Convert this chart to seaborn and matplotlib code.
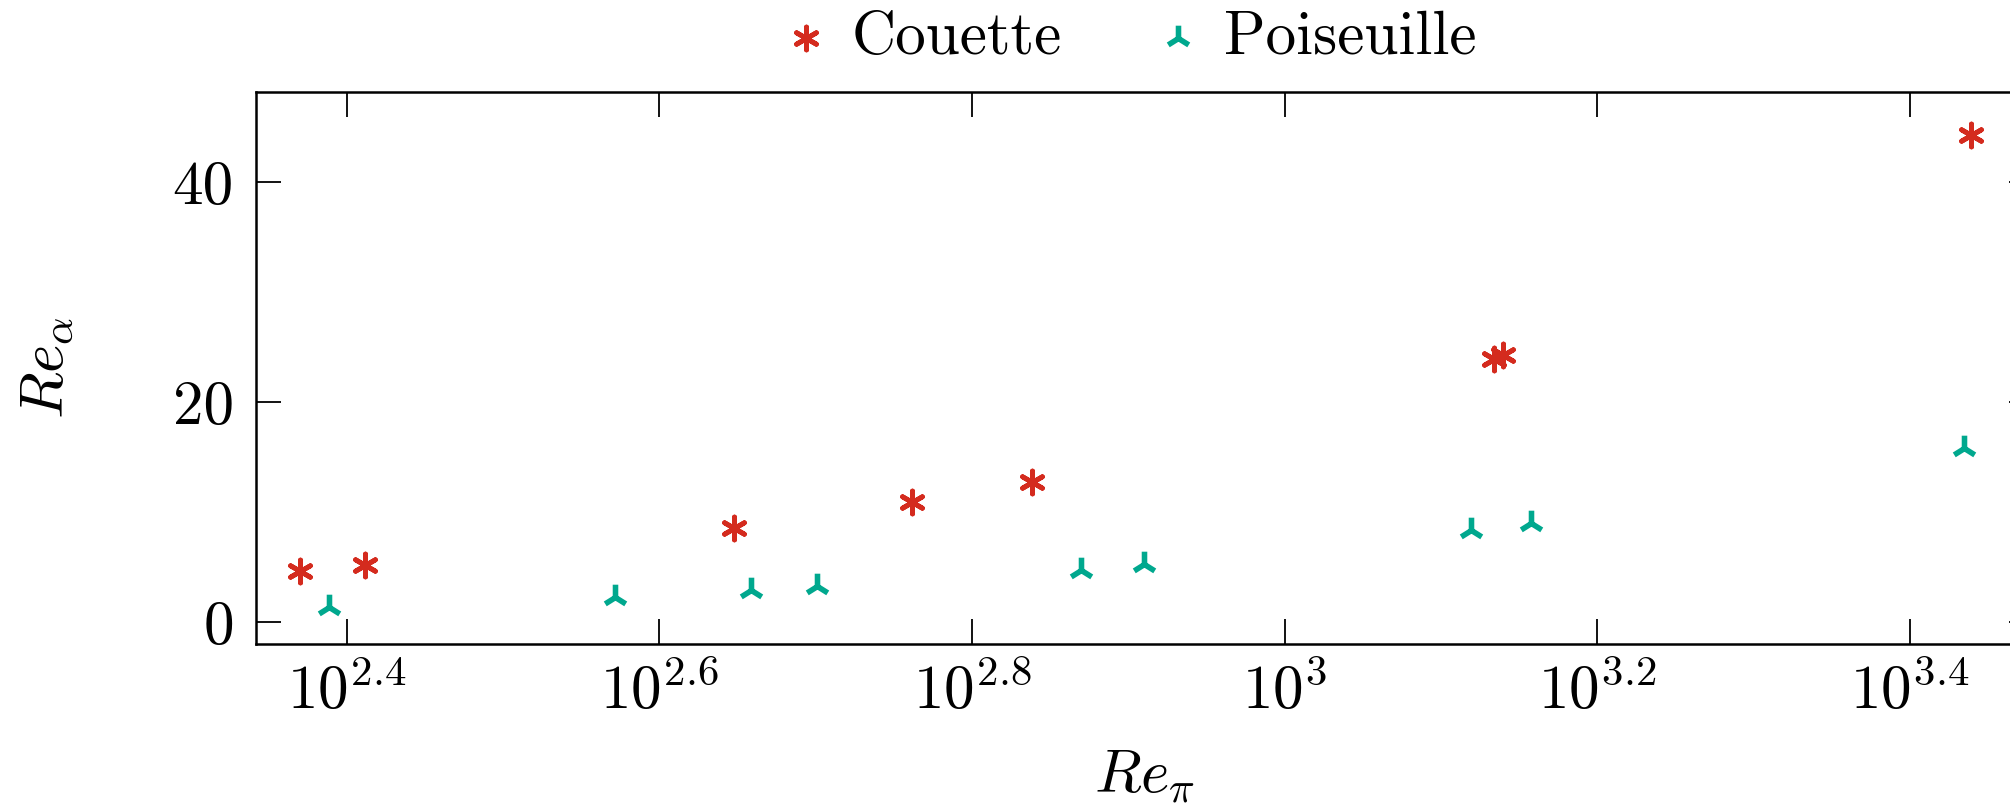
import numpy as np
import pandas as pd
import seaborn as sns
import matplotlib.pyplot as plt

# ── Data ──────────────────────────────────────────────────────────────────────
couette_re_pi    = [234.4, 258.2, 444.6, 578.1, 689.5, 1361.4, 1379.1, 2747.9]
couette_re_alpha = [4.6, 5.2, 8.55, 10.87, 12.75, 23.9, 24.3, 44.3]

poiseuille_re_pi    = [244.8, 372.8, 456.0, 502.3, 740.6, 812.8, 1316.0, 1437.3, 2722.7]
poiseuille_re_alpha = [1.33, 2.27, 2.94, 3.24, 4.75, 5.3, 8.33, 9.0, 15.8]

x_tick_exponents = [2.4, 2.6, 2.8, 3.0, 3.2, 3.4]
x_tick_labels    = [r'$10^{2.4}$', r'$10^{2.6}$', r'$10^{2.8}$',
                    r'$10^{3}$', r'$10^{3.2}$', r'$10^{3.4}$']
y_ticks          = [0, 20, 40]

series_names  = ['Couette', 'Poiseuille']
series_colors = ['#D42B1E', '#00A88E']

# ── Style ─────────────────────────────────────────────────────────────────────
sns.set_style('ticks')
plt.rcParams['font.family'] = ['cmr10', 'DejaVu Serif']
plt.rcParams['mathtext.fontset'] = 'cm'
plt.rcParams['axes.formatter.use_mathtext'] = True
plt.rcParams['axes.unicode_minus'] = False
plt.rcParams['text.color'] = 'black'
plt.rcParams['axes.labelcolor'] = 'black'

FS = 44

df_c = pd.DataFrame({'re_pi': couette_re_pi, 're_alpha': couette_re_alpha})
df_p = pd.DataFrame({'re_pi': poiseuille_re_pi, 're_alpha': poiseuille_re_alpha})

fig = plt.figure(figsize=(20.1, 8.05), dpi=100)
# axes runs past the right edge of the figure, as in the reference
ax = fig.add_axes([256 / 2010, 161 / 805, 1778 / 2010, 552 / 805])

sns.scatterplot(data=df_c, x='re_pi', y='re_alpha', ax=ax,
                marker=(6, 2, 0), color=series_colors[0],
                s=270, linewidth=3.5, legend=False)
sns.scatterplot(data=df_p, x='re_pi', y='re_alpha', ax=ax,
                marker='2', color=series_colors[1],
                s=340, linewidth=4.0, legend=False)

# ── Axes ──────────────────────────────────────────────────────────────────────
ax.set_xscale('log')
ax.set_xlim(10 ** 2.342, 10 ** 3.4795)
ax.set_ylim(-2.0, 48.2)
ax.set_xticks([10 ** e for e in x_tick_exponents])
ax.set_xticklabels(x_tick_labels)
ax.xaxis.set_minor_locator(plt.NullLocator())
ax.set_yticks(y_ticks)
ax.set_yticklabels([str(t) for t in y_ticks])

ax.tick_params(axis='both', which='major', direction='in', length=18,
               width=1.3, top=True, right=True, labelsize=FS, colors='black')
ax.tick_params(axis='x', pad=14)
ax.tick_params(axis='y', pad=16)
for sp in ax.spines.values():
    sp.set_linewidth(1.8)
    sp.set_color('black')

ax.set_xlabel(r'$Re_\pi$', fontsize=FS)
ax.set_ylabel(r'$Re_\alpha$', fontsize=FS)
ax.xaxis.set_label_coords(0.5, -0.19)
ax.yaxis.set_label_coords(-0.102, 0.5)

# ── Legend above the axes ─────────────────────────────────────────────────────
fig.legend(ax.collections[:2], series_names, loc='center',
           bbox_to_anchor=(1132 / 2010, 1 - 38 / 805), ncol=2, frameon=False,
           fontsize=FS, handlelength=0.6, handletextpad=0.45,
           columnspacing=1.6, borderaxespad=0.0)

plt.savefig('out.png', dpi=100)
